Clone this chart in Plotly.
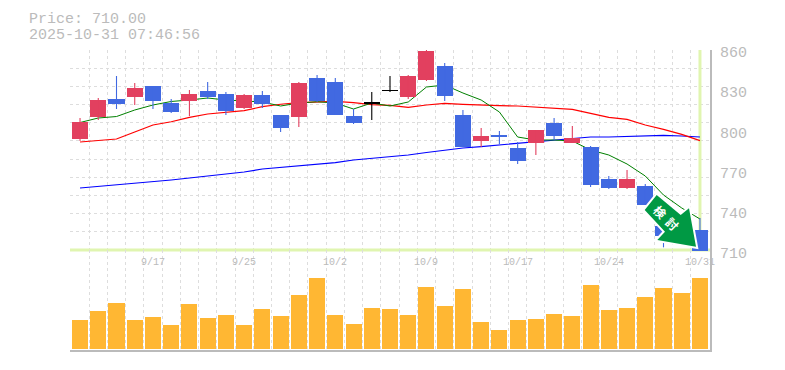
import plotly.graph_objects as go

W, H = 785, 370
dates = ["9/11","9/12","9/15","9/16","9/17","9/18","9/19","9/22","9/24","9/25","9/26","9/29","9/30","10/1","10/2","10/3","10/6","10/7","10/8","10/9","10/10","10/14","10/15","10/16","10/17","10/20","10/21","10/22","10/23","10/24","10/27","10/28","10/29","10/30","10/31"]
tick_labels = ["9/17","9/25","10/2","10/9","10/17","10/24","10/31"]
price_ticks = [710,740,770,800,830,860]
current_price = 710.00
stamp = "2025-10-31 07:46:56"

opens = [793.25,809.75,823.25,824.75,833,820.25,821.75,829.25,827,816.5,826.25,811.25,809.75,839,836,810.5,819.7,829.4,824.75,837.5,848,811.25,791.75,796.25,786.5,790.25,805.25,790.25,787.25,763.25,756.5,758,728,734,725]
closes = [806,822.5,819.5,831.5,821.75,813.5,827,824.75,814.25,826.25,819.5,801.5,835.25,821.75,811.25,805.25,820.3,830,840.5,859.25,825.5,787.25,795.5,794.75,776.75,800,795.5,794,758.75,756.5,763.25,743.75,720.5,723,709.5]
highs = [809,824,840.5,835.25,833,823.25,830,836,828.5,827,829.25,811.25,836,841.25,839,815.75,828.5,840.5,841.25,860,850.25,815,801.5,799.25,791,800,809,803,788,765.5,770,759.5,731,735,734]
lows = [791.75,807.5,815.75,818.75,815.75,812.75,810.5,823.25,811.25,815.75,816.5,798.5,802.25,821,811.25,804.5,807.5,828.5,823.25,836.75,821.75,787.25,787.25,789.5,774.5,781.25,792.5,790.25,757.25,755.75,755.75,743.75,712,722,710]
ma_short = [805.6,809,810.1,815,818.75,821.4,822.5,824,822.5,821.75,821,818,820.25,821.2,820.25,815.75,820.25,818,821,832.25,833.75,827.75,822.5,813.5,794.75,792.5,792.5,791.75,785,781.25,774.5,765.5,751.25,741.5,733.25]
ma_mid = [791,792.1,793.25,798.5,803.75,806.2,809.5,812,813,814.5,817.5,819.3,820.5,821,821.5,820.5,819,818.5,817,818.75,820,819.25,818.5,818.25,818,817,816.25,815.5,812.5,809.5,808,803.75,800.5,796.75,792]
ma_long = [756.5,757.6,758.75,759.9,761.4,762.5,764,765.5,767,768.5,770.75,771.9,773,774.1,775.6,777.5,778.6,779.75,781.25,783.1,785,786.5,787.6,788.75,789.9,791,792.1,793.25,794.75,794.75,795.1,795.9,795.9,795.5,794.75]
volumes = [29,38,46,29,32,24,45,31,34,24,40,33,54,71,34,25,41,40,34,62,43,60,27,19,29,30,35,33,64,39,41,52,61,56,71]

UP, DOWN, DOJI = "#e2405f", "#4169e1", "#000000"
GRID, LABEL, CROSS = "#dddddd", "#bbbbbb", "#e0f5b0"
n = len(dates)
xs = list(range(n))
tick_x = [dates.index(t) for t in tick_labels]

def px_x(p): return p / W
def px_y(p): return (H - p) / H

colors = []
for o, c in zip(opens, closes):
    colors.append(DOJI if abs(c - o) < 1 else (UP if c > o else DOWN))

fig = go.Figure()
fig.add_trace(go.Scatter(x=[-0.55, 34.55], y=[current_price]*2, mode="lines", line=dict(color=CROSS, width=3), xaxis="x", yaxis="y"))
fig.add_trace(go.Scatter(x=[xs[-1]]*2, y=[current_price, 860], mode="lines", line=dict(color=CROSS, width=3), xaxis="x", yaxis="y"))
fig.add_trace(go.Scatter(x=xs, y=ma_long, mode="lines", line=dict(color="#0000ff", width=1.2), xaxis="x", yaxis="y"))
fig.add_trace(go.Scatter(x=xs, y=ma_mid, mode="lines", line=dict(color="#ff0000", width=1.2), xaxis="x", yaxis="y"))
fig.add_trace(go.Scatter(x=xs, y=ma_short, mode="lines", line=dict(color="#008000", width=1), xaxis="x", yaxis="y"))

fig.add_trace(go.Bar(x=xs, base=[min(o, c) for o, c in zip(opens, closes)], y=[abs(c - o) for o, c in zip(opens, closes)],
                     width=0.88, marker=dict(color=colors, line=dict(width=0)), xaxis="x", yaxis="y4"))
for col in (UP, DOWN, DOJI):
    wx, wy = [], []
    for i in xs:
        if colors[i] == col:
            wx += [i, i, None]
            wy += [lows[i], highs[i], None]
    fig.add_trace(go.Scatter(x=wx, y=wy, mode="lines", line=dict(color=col, width=1.1), xaxis="x", yaxis="y4"))

fig.add_trace(go.Bar(x=xs, y=volumes, width=0.88, marker=dict(color="#ffb733", line=dict(width=0)), xaxis="x2", yaxis="y2"))

xdom = [px_x(70), px_x(710)]
xrange_ = [-0.55, 34.55]
yrange_ = [708.5, 860]
grid = dict(showgrid=True, gridcolor=GRID, gridwidth=1, griddash="3px,3px", zeroline=False)
lfont = dict(family="Liberation Mono, monospace", color=LABEL)

fig.update_layout(
    width=W, height=H, margin=dict(l=0, r=0, t=0, b=0, autoexpand=False), paper_bgcolor="white", plot_bgcolor="rgba(0,0,0,0)",
    showlegend=False, hovermode=False, bargap=0,
    xaxis=dict(domain=xdom, range=xrange_, anchor="y", tickmode="linear", tick0=-0.5, dtick=1, showticklabels=False, ticks="", **grid),
    xaxis2=dict(domain=xdom, range=xrange_, anchor="y2", tickmode="linear", tick0=-0.5, dtick=1, showticklabels=False, ticks="",
                showline=True, linecolor=LABEL, linewidth=2, **grid),
    yaxis=dict(domain=[px_y(252), px_y(50)], range=yrange_, anchor="x", side="right", tickmode="linear", tick0=710, dtick=150/11,
               showticklabels=False, ticks="", showline=True, linecolor=LABEL, linewidth=2, **grid),
    yaxis2=dict(domain=[px_y(350), px_y(250)], range=[-1.5, 98.5], anchor="x2", side="right", showgrid=False, zeroline=False,
                showticklabels=False, ticks="", showline=True, linecolor=LABEL, linewidth=2),
    yaxis4=dict(range=yrange_, overlaying="y", side="right", showgrid=False, zeroline=False, showticklabels=False, ticks=""),
)

for t in price_ticks:
    fig.add_annotation(text=str(t), x=px_x(717.5), y=t, xref="paper", yref="y", yshift=-4, showarrow=False,
                       xanchor="left", yanchor="middle", font=dict(size=15, **lfont))
for i, t in zip(tick_x, tick_labels):
    fig.add_annotation(text=t, x=i, y=px_y(262), xref="x", yref="paper", showarrow=False,
                       xanchor="center", yanchor="middle", font=dict(size=10, **lfont))

arrow = [(656.7,195),(680.7,215),(689,208.3),(696,246.7),(657.3,240),(665,231.7),(644.7,210)]
path = "M " + " L ".join(f"{px_x(a)} {px_y(b)}" for a, b in arrow) + " Z"
fig.add_shape(type="path", path=path, xref="paper", yref="paper", fillcolor="#ffffff", line=dict(color="#ffffff", width=4), layer="above")
fig.add_shape(type="path", path=path, xref="paper", yref="paper", fillcolor="#009944", line=dict(width=0), layer="above")
for ch, (cx, cy) in zip("検討", [(660, 212), (672.7, 223)]):
    fig.add_annotation(text=f"<b>{ch}</b>", x=px_x(cx), y=px_y(cy), xref="paper", yref="paper", showarrow=False, textangle=45,
                       font=dict(family="Noto Sans CJK JP", size=12, color="white"), xanchor="center", yanchor="middle",
                       borderpad=0, borderwidth=0)

fig.add_annotation(text=f"Price: {current_price:.2f}", x=px_x(28.5), y=px_y(19), xref="paper", yref="paper", showarrow=False,
                   xanchor="left", yanchor="middle", font=dict(size=15, **lfont), borderpad=0, borderwidth=0)
fig.add_annotation(text=stamp, x=px_x(28.5), y=px_y(35), xref="paper", yref="paper", showarrow=False,
                   xanchor="left", yanchor="middle", font=dict(size=15, **lfont), borderpad=0, borderwidth=0)

fig.write_html("out.html", config=dict(displayModeBar=False), post_script="document.body.style.margin='0';window.dispatchEvent(new Event('resize'));")
